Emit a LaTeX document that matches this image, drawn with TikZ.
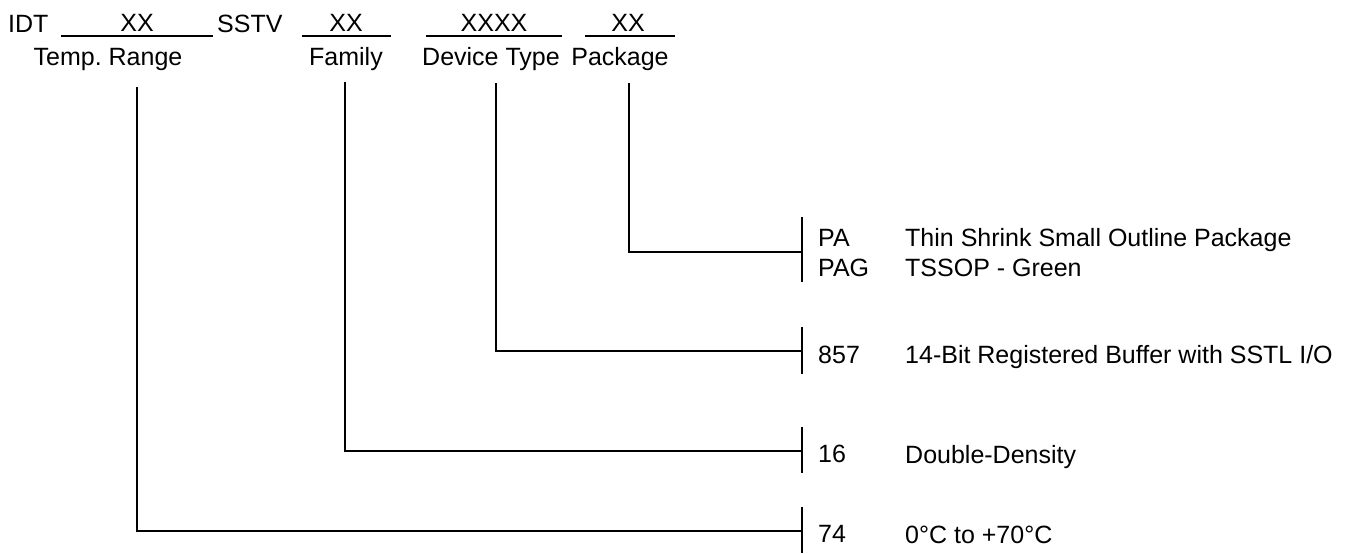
\documentclass[tikz,border=0pt]{standalone}
\usepackage{fontspec}
\setmainfont{Liberation Sans}
\usepackage{tikz}
\usetikzlibrary{positioning,calc}
\frenchspacing

\begin{document}
\begin{tikzpicture}[
        x=1pt, y=-1pt,
        txt/.style={font=\fontsize{25}{30}\selectfont, inner sep=0pt, anchor=base},
        code/.style={txt, anchor=base west},
        ln/.style={line width=1.3pt},
        thk/.style={line width=2pt}
      ]
        \useasboundingbox (0,0) rectangle (1366,554);

        % ordering code fields
        \node[code] (idt) at (8,32) {IDT};
        \node[txt] (xx1) at (137,31) {XX};
        \node[code] (sstv) at (217,32) {SSTV};
        \node[txt] (xx2) at (346,31) {XX};
        \node[txt] (xx3) at (494,31) {XXXX};
        \node[txt] (xx4) at (628,31) {XX};
        \draw[ln] (61,36) -- (213,36);
        \draw[ln] (302,36) -- (391,36);
        \draw[ln] (426,36) -- (562,36);
        \draw[ln] (585,36) -- (675,36);

        \node[txt] (temp) at (108,65) {Temp. Range};
        \node[txt] (fam) at (346,65) {Family};
        \node[txt] (dev) at (491,65) {Device Type};
        \node[txt] (pkg) at (620,65) {Package};

        \coordinate (ttemp) at (137,87);
        \coordinate (tfam) at (345,82);
        \coordinate (tdev) at (496,83);
        \coordinate (tpkg) at (629,83);

        % brackets
        \coordinate (kpkg) at (802,252);
        \coordinate (k857) at (802,351);
        \coordinate (k16) at (802,451);
        \coordinate (k74) at (802,531);
        \draw[thk] (802,217) -- (802,282);
        \draw[thk] (802,327) -- (802,374);
        \draw[thk] (802,427) -- (802,473);
        \draw[thk] (802,507) -- (802,553);

        % connectors
        \draw[ln] (tpkg) |- (kpkg);
        \draw[ln] (tdev) |- (k857);
        \draw[thk] (tfam) |- (k16);
        \draw[ln] (ttemp) |- (k74);

        % options
        \node[code] (pa) at (818,246) {PA};
        \node[code] (pag) at (818,276) {PAG};
        \node[code] (c857) at (818,363) {857};
        \node[code] (c16) at (818,462) {16};
        \node[code] (c74) at (818,542) {74};
        \node[code] (dpa) at (905,246) {Thin Shrink Small Outline Package};
        \node[code] (dpag) at (905,276) {TSSOP - Green};
        \node[code] (d857) at (905,363) {14-Bit Registered Buffer with SSTL I/O};
        \node[code] (d16) at (905,463) {Double-Density};
        \node[code] (d74) at (905,543) {0°C to +70°C};

      \end{tikzpicture}
\end{document}
